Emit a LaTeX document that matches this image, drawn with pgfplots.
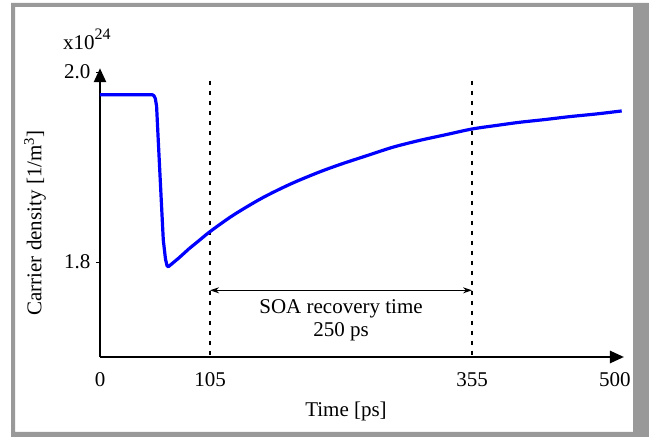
\documentclass[border=0pt]{standalone}
\usepackage{pgfplots}
\pgfplotsset{compat=1.18}
\usepackage{fontspec}
\setmainfont{Liberation Serif}
\usetikzlibrary{arrows.meta}
\definecolor{framegray}{RGB}{153,153,153}
\definecolor{curveblue}{RGB}{0,0,255}
\begin{document}
\begin{tikzpicture}[font=\fontsize{21}{25}\selectfont]
\path[use as bounding box, fill=white] (0pt,0pt) rectangle (649pt,439pt);
\fill[framegray, even odd rule] (11pt,2pt) rectangle (649pt,436pt) (15pt,7pt) rectangle (633pt,432pt);
\begin{axis}[
  at={(100pt,82pt)}, anchor=south west,
  scale only axis, width=524pt, height=288.8pt,
  xmin=0, xmax=500, ymin=1.7, ymax=2.004,
  axis lines=left,
  axis line style={line width=2.5pt, -{Triangle[length=14pt,width=12pt]}},
  clip=false,
  xtick={0,105,355,500},
  xticklabels={0,105,355,500\hspace*{18pt}},
  ytick={1.8,2.0},
  yticklabels={1.8,2.0},
  tick align=outside,
  major tick length=4pt,
  xtick style={draw=none},
  ytick style={line width=0.8pt, black},
  xticklabel style={yshift=-8pt},
  yticklabel style={xshift=-2pt},
]
\addplot[black, line width=1.5pt, dash pattern=on 4pt off 6pt] coordinates {(105,1.991) (105,1.697)};
\addplot[black, line width=1.5pt, dash pattern=on 4pt off 6pt] coordinates {(355,1.991) (355,1.697)};
\addplot[curveblue, line width=3.2pt, line join=round] coordinates {
(0,1.976) (50,1.976) (51.5,1.975) (52.8,1.972) (54,1.964) (55.5,1.930) (57.5,1.886) (60.4,1.823)
(62.5,1.803) (64,1.796) (65.2,1.795) (75,1.804) (85,1.814)};
\addplot[curveblue, line width=3.2pt, line join=round, smooth, tension=0.5] coordinates {
(85,1.814) (95,1.823) (105,1.832) (124,1.847)
(140,1.858) (155.8,1.868) (172,1.877) (187.8,1.885) (210,1.895) (230,1.903) (257.6,1.913)
(280,1.921) (305,1.928) (330,1.934) (355,1.940) (380,1.944) (400,1.947) (425,1.950)
(448,1.953) (475,1.956) (497.8,1.959)};
\draw[line width=1pt, {Stealth[length=9pt,width=6pt]}-{Stealth[length=9pt,width=6pt]}] (axis cs:105,1.7702) -- (axis cs:355,1.7702);
\node[align=center, font=\fontsize{21}{23.7}\selectfont] at (axis cs:230,1.7386) {SOA recovery time\\250 ps};
\end{axis}
\node[rotate=90] at (35pt,216pt) {Carrier density [1/m\textsuperscript{3}]};
\node at (346pt,28pt) {Time [ps]};
\node[anchor=base west, inner sep=0pt] at (63pt,389pt) {x10\raisebox{10.5pt}{\fontsize{16}{16}\selectfont 24}};
\end{tikzpicture}
\end{document}
